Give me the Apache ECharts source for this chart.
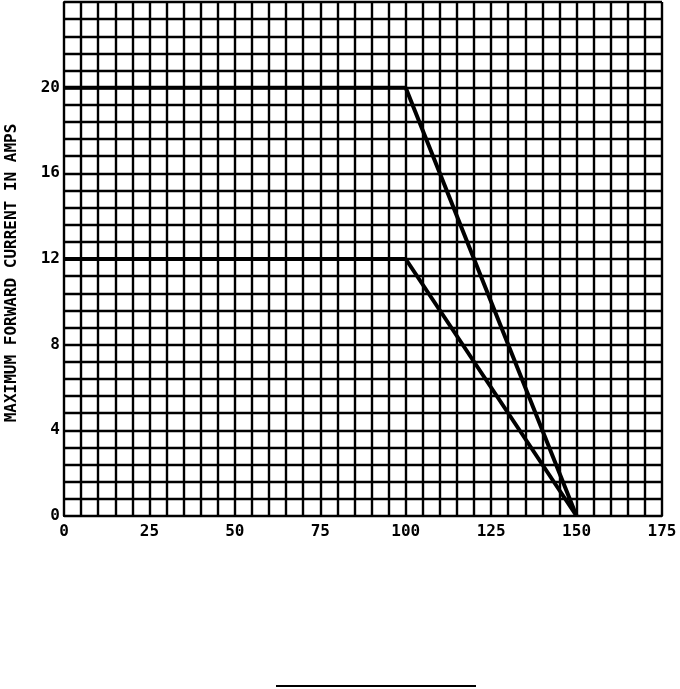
<!DOCTYPE html>
<html><head><meta charset="utf-8">
<script src="https://cdn.jsdelivr.net/npm/echarts@6/dist/echarts.min.js"></script>
<style>html,body{margin:0;padding:0;background:#fff}#c{width:680px;height:689px}</style>
</head><body><div id="c"></div>
<script>
const temps = [0, 100, 150];
const current20 = [20, 20, 0];
const current12 = [12, 12, 0];
const xTicks = [0, 25, 50, 75, 100, 125, 150, 175];
const yTicks = [0, 4, 8, 12, 16, 20];
const yTitle = 'MAXIMUM FORWARD CURRENT IN AMPS';

const font = '"DejaVu Sans Mono", monospace';
const chart = echarts.init(document.getElementById('c'));
function near(v, list){ return list.some(t => Math.abs(v - t) < 1e-6); }
chart.setOption({
  animation: false,
  grid: {left: 64, right: 18, top: 2, bottom: 173, containLabel: false, outerBoundsMode: 'none'},
  xAxis: {
    type: 'value', min: 0, max: 175, interval: 5,
    axisLine: {show: true, lineStyle: {color: '#000', width: 2}},
    axisTick: {show: false},
    splitLine: {show: true, lineStyle: {color: '#000', width: 2.4}},
    axisLabel: {color: '#000', fontFamily: font, fontWeight: 'bold', fontSize: 16, margin: 8,
      formatter: v => near(v, xTicks) ? String(Math.round(v)) : ''}
  },
  yAxis: {
    type: 'value', min: 0, max: 24, interval: 0.8,
    axisLine: {show: true, lineStyle: {color: '#000', width: 2}},
    axisTick: {show: false},
    splitLine: {show: true, lineStyle: {color: '#000', width: 2.4}},
    axisLabel: {color: '#000', fontFamily: font, fontWeight: 'bold', fontSize: 16, margin: 4,
      formatter: v => near(v, yTicks) ? String(Math.round(v)) : ''}
  },
  series: [
    {type: 'line', data: temps.map((t,i)=>[t, current20[i]]), symbol: 'none',
     lineStyle: {color: '#000', width: 4}},
    {type: 'line', data: temps.map((t,i)=>[t, current12[i]]), symbol: 'none',
     lineStyle: {color: '#000', width: 4}}
  ],
  graphic: [
    {type: 'text', x: 12, y: 273, rotation: Math.PI / 2,
     style: {text: yTitle, fill: '#000', font: 'bold 16px ' + font, align: 'center', verticalAlign: 'middle'}},
    {type: 'line', shape: {x1: 276, y1: 686, x2: 476, y2: 686}, style: {stroke: '#000', lineWidth: 2}}
  ]
});
</script></body></html>
